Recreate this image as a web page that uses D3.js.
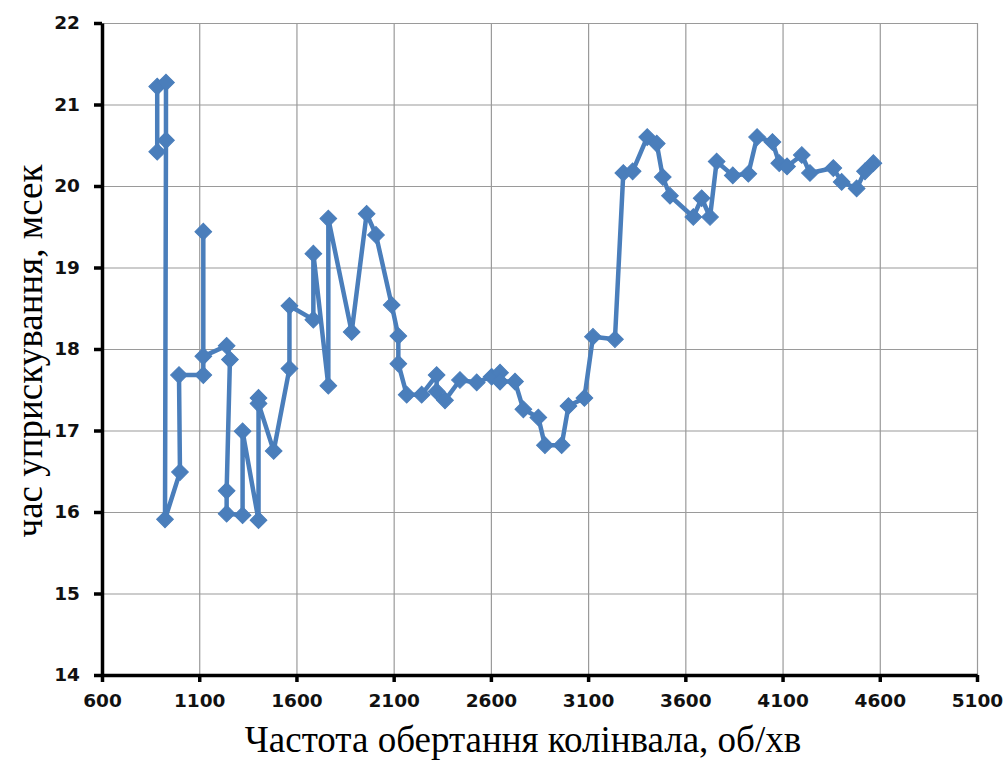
<!DOCTYPE html>
<html>
<head>
<meta charset="utf-8">
<script src="https://cdn.jsdelivr.net/npm/d3@7"></script>
<style>
  html, body { margin: 0; padding: 0; background: #fff; }
  svg { display: block; }
</style>
</head>
<body>
<svg id="chart" width="1007" height="763"></svg>
<script>
// Crankshaft speed, rpm (in measurement order)
const rpm = [884, 884, 929, 929, 924, 1001, 996, 1121, 1121, 1121, 1241, 1258, 1241, 1241,
  1323, 1323, 1405, 1405, 1405, 1483, 1564, 1564, 1687, 1687, 1764, 1764, 1884, 1961, 2009,
  2090, 2124, 2124, 2167, 2244, 2321, 2321, 2364, 2441, 2527, 2604, 2647, 2647, 2724, 2767,
  2844, 2878, 2964, 2999, 3081, 3125, 3238, 3281, 3329, 3404, 3453, 3484, 3521, 3641, 3684,
  3727, 3761, 3844, 3924, 3969, 4048, 4083, 4123, 4199, 4241, 4361, 4404, 4481, 4524, 4567];

// Injection duration, ms
const injMs = [20.42, 21.22, 21.27, 20.56, 15.91, 16.49, 17.68, 17.68, 19.44, 17.91, 18.04, 17.87, 16.26, 15.98,
  15.96, 16.99, 15.90, 17.40, 17.33, 16.75, 17.76, 18.53, 18.36, 19.17, 17.55, 19.60, 18.21, 19.66, 19.40,
  18.54, 18.16, 17.82, 17.44, 17.44, 17.68, 17.48, 17.37, 17.62, 17.59, 17.66, 17.71, 17.60, 17.60, 17.26,
  17.16, 16.82, 16.82, 17.30, 17.40, 18.15, 18.12, 20.16, 20.18, 20.60, 20.52, 20.11, 19.88, 19.62, 19.85,
  19.62, 20.30, 20.13, 20.15, 20.60, 20.54, 20.28, 20.24, 20.38, 20.16, 20.22, 20.05, 19.97, 20.18, 20.28];

const xTicks = [600, 1100, 1600, 2100, 2600, 3100, 3600, 4100, 4600, 5100];
const yTicks = [14, 15, 16, 17, 18, 19, 20, 21, 22];

const xTitle = "Частота обертання колінвала, об/хв";
const yTitle = "час уприскування, мсек";

const points = rpm.map((r, i) => ({ x: r, y: injMs[i] }));

const svg = d3.select("#chart");
const plotLeft = 102, plotRight = 977, plotTop = 23, plotBottom = 675;

const x = d3.scaleLinear().domain([600, 5100]).range([plotLeft, plotRight]);
const y = d3.scaleLinear().domain([14, 22]).range([plotBottom, plotTop]);

const blue = "#4a7ebb";
const gridColor = "#9a9a9a";

// grid
const grid = svg.append("g");
grid.selectAll("line.v").data(xTicks.slice(1)).join("line")
  .attr("x1", d => x(d) + 0.5).attr("x2", d => x(d) + 0.5)
  .attr("y1", plotTop).attr("y2", plotBottom)
  .attr("stroke", gridColor).attr("stroke-width", 1.2);
grid.selectAll("line.h").data(yTicks.slice(1)).join("line")
  .attr("x1", plotLeft).attr("x2", plotRight)
  .attr("y1", d => y(d) + 0.5).attr("y2", d => y(d) + 0.5)
  .attr("stroke", gridColor).attr("stroke-width", 1.2);

// axes
const tickFont = "DejaVu Sans, sans-serif";
const xAxis = svg.append("g").attr("transform", `translate(0,${plotBottom})`)
  .call(d3.axisBottom(x).tickValues(xTicks).tickSize(7).tickSizeOuter(0).tickPadding(12).tickFormat(d3.format("d")));
const yAxis = svg.append("g").attr("transform", `translate(${plotLeft},0)`)
  .call(d3.axisLeft(y).tickValues(yTicks).tickSize(8).tickSizeOuter(0).tickPadding(14).tickFormat(d3.format("d")));

[xAxis, yAxis].forEach(a => {
  a.select(".domain").attr("stroke", "#000").attr("stroke-width", 3.5);
  a.selectAll(".tick line").attr("stroke", "#000").attr("stroke-width", 3.5);
  a.selectAll(".tick text")
    .attr("fill", "#111")
    .style("font-family", tickFont)
    .style("font-weight", "bold")
    .style("font-size", "18.5px");
});

// series line
svg.append("path")
  .datum(points)
  .attr("fill", "none")
  .attr("stroke", blue)
  .attr("stroke-width", 4.5)
  .attr("stroke-linejoin", "round")
  .attr("d", d3.line().x(d => x(d.x)).y(d => y(d.y)));

// diamond markers
const diamond = d3.symbol().type(d3.symbolSquare).size(140);
svg.append("g").selectAll("path").data(points).join("path")
  .attr("d", diamond)
  .attr("transform", d => `translate(${x(d.x)},${y(d.y)}) rotate(45)`)
  .attr("fill", blue)
  .attr("stroke", blue)
  .attr("stroke-width", 1);

// axis titles
svg.append("text")
  .attr("x", 523)
  .attr("y", 752)
  .attr("text-anchor", "middle")
  .style("font-family", "Liberation Serif, Times New Roman, serif")
  .style("font-size", "37px")
  .attr("fill", "#000")
  .text(xTitle);

svg.append("text")
  .attr("transform", `translate(42,351) rotate(-90)`)
  .attr("text-anchor", "middle")
  .style("font-family", "Liberation Serif, Times New Roman, serif")
  .style("font-size", "37px")
  .attr("fill", "#000")
  .text(yTitle);
</script>
</body>
</html>
